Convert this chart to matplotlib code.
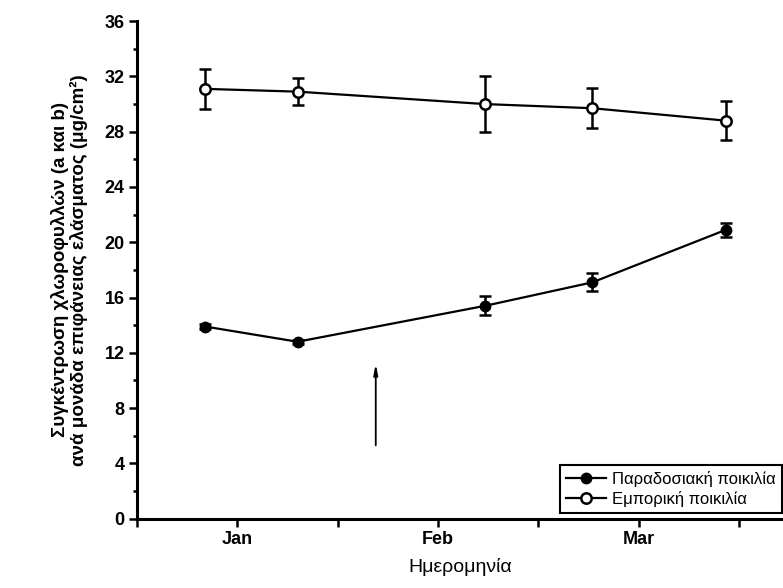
import matplotlib.pyplot as plt
from matplotlib.ticker import MultipleLocator

# x in months (Jan = 1, Feb = 2, Mar = 3)
dates = [0.84, 1.30, 2.235, 2.77, 3.435]
month_ticks = [1, 2, 3]
month_labels = ["Jan", "Feb", "Mar"]

trad = [13.9, 12.8, 15.4, 17.1, 20.9]
trad_err = [0.15, 0.15, 0.7, 0.65, 0.5]
comm = [31.1, 30.9, 30.0, 29.7, 28.8]
comm_err = [1.45, 1.0, 2.0, 1.45, 1.4]

arrow_x = 1.69
arrow_y = (5.1, 11.4)

plt.rcParams["font.family"] = ["Liberation Sans", "DejaVu Sans"]

fig = plt.figure(figsize=(7.83, 5.88), dpi=100)
ax = fig.add_axes([0.175, 0.118, 0.825, 0.846])

e1 = ax.errorbar(dates, trad, yerr=trad_err, fmt="-o", color="black",
                 mfc="black", ms=7.5, lw=1.6, elinewidth=1.8, capsize=4, capthick=1.8,
                 label="Παραδοσιακή ποικιλία")
e2 = ax.errorbar(dates, comm, yerr=comm_err, fmt="-o", color="black",
                 mfc="white", mew=1.8, ms=7.5, lw=1.6, elinewidth=1.8, capsize=4, capthick=1.8,
                 label="Εμπορική ποικιλία")

ax.annotate("", xy=(arrow_x, arrow_y[1]), xytext=(arrow_x, arrow_y[0]),
            arrowprops=dict(arrowstyle="-|>,head_width=0.12,head_length=0.6",
                            color="black", lw=1.3))

ax.set_xlim(0.5, 3.72)
ax.set_ylim(0, 36)
ax.set_xticks(month_ticks)
ax.set_xticklabels(month_labels, fontsize=13, fontweight="bold")
ax.xaxis.set_minor_locator(MultipleLocator(0.5))
ax.yaxis.set_major_locator(MultipleLocator(4))
ax.yaxis.set_minor_locator(MultipleLocator(2))
for lab in ax.get_yticklabels():
    lab.set_fontsize(13)
    lab.set_fontweight("bold")

ax.tick_params(axis="x", which="both", length=6, width=1.8, direction="out", pad=3)
ax.tick_params(axis="y", which="major", length=6, width=1.8, direction="out", pad=3)
ax.tick_params(axis="y", which="minor", length=3, width=1.8, direction="out")

for s in ["top", "right"]:
    ax.spines[s].set_visible(False)
for s in ["left", "bottom"]:
    ax.spines[s].set_linewidth(2.2)

ax.set_ylabel("Συγκέντρωση χλωροφυλλών (a και b)\nανά μονάδα επιφάνειας ελάσματος (μg/cm²)",
              fontsize=13.5, fontweight="bold", labelpad=12, linespacing=1.05)
ax.set_xlabel("Ημερομηνία", fontsize=14, labelpad=7)

leg = ax.legend(handles=[e1[0], e2[0]], labels=["Παραδοσιακή ποικιλία", "Εμπορική ποικιλία"],
                loc="lower right", bbox_to_anchor=(0.998, 0.012), fontsize=12,
                frameon=True, fancybox=False, framealpha=1, edgecolor="black",
                handlelength=2.4, borderpad=0.35, labelspacing=0.25, handletextpad=0.4,
                borderaxespad=0)
leg.get_frame().set_linewidth(1.5)

fig.savefig("out.png", dpi=100)
